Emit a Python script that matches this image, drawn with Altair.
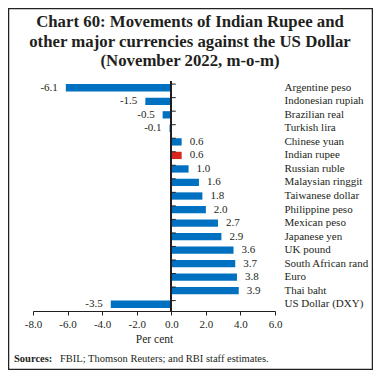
import altair as alt
import pandas as pd

categories = ["Argentine peso", "Indonesian rupiah", "Brazilian real", "Turkish lira",
              "Chinese yuan", "Indian rupee", "Russian ruble", "Malaysian ringgit",
              "Taiwanese dollar", "Philippine peso", "Mexican peso", "Japanese yen",
              "UK pound", "South African rand", "Euro", "Thai baht", "US Dollar (DXY)"]
values = [-6.1, -1.5, -0.5, -0.1, 0.6, 0.6, 1.0, 1.6, 1.8, 2.0, 2.7, 2.9, 3.6, 3.7, 3.8, 3.9, -3.5]
highlight = ["Indian rupee"]
x_ticks = [-8, -6, -4, -2, 0, 2, 4, 6]
title_lines = ["Chart 60: Movements of Indian Rupee and",
               "other major currencies against the US Dollar",
               "(November 2022, m-o-m)"]

df = pd.DataFrame({"currency": categories, "value": values})
df["hl"] = df["currency"].isin(highlight)
df["label"] = [f"{v:.1f}" for v in values]

FONT = "Liberation Serif"
TXT = "#231F20"
BLUE = "#0070C0"
RED = "#D9261C"

xs = alt.Scale(domain=[-8, 6], nice=False, zero=False)
ys = alt.Scale(domain=categories, paddingInner=0.46, paddingOuter=0.23)

xaxis = alt.Axis(values=x_ticks, tickCount=8, title="Per cent", grid=False,
                 labelExpr="datum.value < 0 ? '-' + format(-datum.value, '.1f') : format(datum.value, '.1f')",
                 labelOverlap=False, labelFlush=False, labelBound=False,
                 tickSize=4, labelPadding=3, titlePadding=4,
                 domainColor=TXT, tickColor=TXT, labelColor=TXT, titleColor=TXT,
                 labelFont=FONT, titleFont=FONT, labelFontSize=11,
                 titleFontSize=11.5, titleFontWeight="normal")
yaxis = alt.Axis(orient="right", title=None, ticks=False, domain=False,
                 labelPadding=9, labelFont=FONT, labelFontSize=11,
                 labelColor=TXT, grid=False)

base = alt.Chart(df)

bars = base.mark_bar().encode(
    x=alt.X("value:Q", scale=xs, axis=xaxis),
    y=alt.Y("currency:N", scale=ys, sort=categories, axis=yaxis),
    color=alt.condition("datum.hl", alt.value(RED), alt.value(BLUE)),
)

pos_text = base.transform_filter("datum.value >= 0").mark_text(
    align="left", dx=8, font=FONT, fontSize=11, color=TXT
).encode(x=alt.X("value:Q", scale=xs, axis=xaxis),
         y=alt.Y("currency:N", scale=ys, sort=categories, axis=yaxis),
         text="label:N")

neg_text = base.transform_filter("datum.value < 0").mark_text(
    align="right", dx=-8, font=FONT, fontSize=11, color=TXT
).encode(x=alt.X("value:Q", scale=xs, axis=xaxis),
         y=alt.Y("currency:N", scale=ys, sort=categories, axis=yaxis),
         text="label:N")

zero_line = base.mark_rule(color=TXT).encode(
    x=alt.X(datum=0, scale=xs, axis=xaxis), y=alt.value(0), y2=alt.value(230))

band_ticks = base.mark_rule(color=TXT, strokeWidth=1).encode(
    x=alt.X(datum=0, scale=xs, axis=xaxis), x2=alt.datum(0.26),
    y=alt.Y("currency:N", scale=ys, sort=categories, bandPosition=0, axis=yaxis))

one = base.transform_filter("datum.currency == 'Euro'")

frame = one.mark_rect(
    filled=False, stroke="#222222", strokeWidth=1.5
).encode(x=alt.value(-24.5), x2=alt.value(339.5), y=alt.value(-72.5), y2=alt.value(288.5))

title = one.mark_text(
    text=title_lines, align="center", baseline="alphabetic", font=FONT, fontSize=16.8,
    fontWeight="bold", color=TXT, lineHeight=19.5
).encode(x=alt.value(157), y=alt.value(-54))

src_bold = one.mark_text(
    text="Sources:", align="left", baseline="alphabetic", font=FONT, fontSize=10.5,
    fontWeight="bold", color=TXT
).encode(x=alt.value(-19), y=alt.value(281))

src_rest = one.mark_text(
    text="FBIL; Thomson Reuters; and RBI staff estimates.", align="left",
    baseline="alphabetic", font=FONT, fontSize=10.5, color=TXT
).encode(x=alt.value(27), y=alt.value(281))

chart = alt.layer(bars, band_ticks, zero_line, pos_text, neg_text, frame, title,
                  src_bold, src_rest).properties(
    width=242, height=230,
    autosize=alt.AutoSizeParams(type="none"),
    padding={"left": 25, "top": 73, "right": 98, "bottom": 59},
).configure_view(stroke=None)

chart.save("out.html", embed_options={"renderer": "svg", "actions": False})
